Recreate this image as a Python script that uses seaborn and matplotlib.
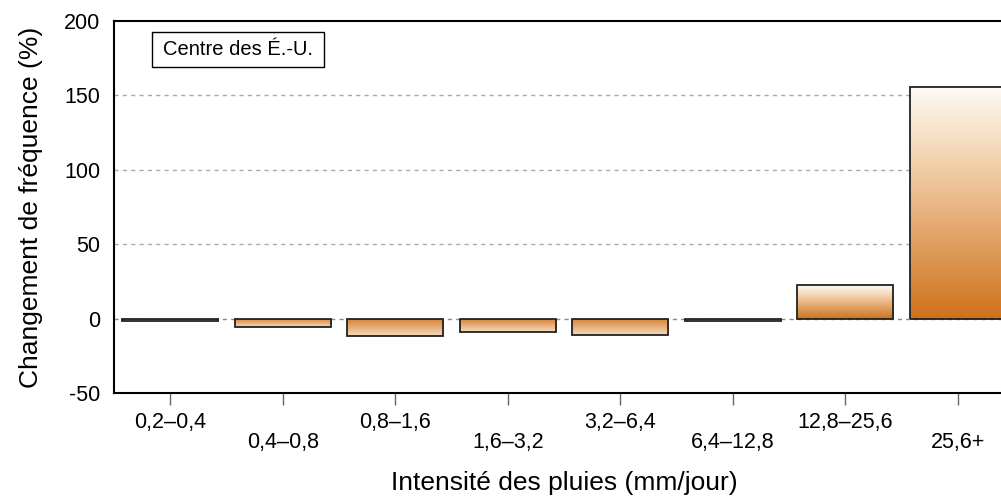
import matplotlib
matplotlib.use("Agg")
import matplotlib.pyplot as plt
import matplotlib.patches as mpatches
import numpy as np
import seaborn as sns
from matplotlib.colors import LinearSegmentedColormap

# data
categories = ["0,2–0,4", "0,4–0,8", "0,8–1,6", "1,6–3,2",
              "3,2–6,4", "6,4–12,8", "12,8–25,6", "25,6+"]
change_pct = [-1.3, -5.6, -11.6, -8.9, -11.1, -1.3, 22.8, 155.5]
y_ticks = [-50, 0, 50, 100, 150, 200]
region_label = "Centre des É.-U."

sns.set_style("white")
plt.rcParams["font.family"] = ["Liberation Sans", "DejaVu Sans"]
plt.rcParams["text.color"] = "black"
plt.rcParams["axes.labelcolor"] = "black"
plt.rcParams["xtick.color"] = "black"
plt.rcParams["ytick.color"] = "black"

fig = plt.figure(figsize=(10.01, 4.96), dpi=100)
ax = fig.add_axes([0.1139, 0.2077, 0.8991, 0.75])

# dashed guides behind the bars
for yv in [0, 50, 100, 150]:
    ax.axhline(yv, color="#888888" if yv == 0 else "#aaaaaa", lw=1,
               dashes=(3, 3), zorder=0.2)

sns.barplot(x=categories, y=change_pct, ax=ax, width=0.855,
            color="white", edgecolor="#222222", linewidth=1.3, zorder=2)

# orange gradient: dark at zero, fading toward the bar end
cmap = LinearSegmentedColormap.from_list(
    "rain", ["#cf711a", "#e0a062", "#f2d0aa", "#fefaf4"])
for patch, val in zip(ax.patches, change_pct):
    patch.set_facecolor("none")
    x0, w = patch.get_x(), patch.get_width()
    lo, hi = min(0, val), max(0, val)
    if val < 0:
        # short negative bars stay more saturated; lightest at the far end
        g = np.linspace(0.75, 0.1, 256).reshape(-1, 1)
    else:
        g = np.linspace(0, 1, 256).reshape(-1, 1)
    im = ax.imshow(g, cmap=cmap, vmin=0, vmax=1, aspect="auto",
                   extent=(x0, x0 + w, lo, hi), origin="lower",
                   zorder=1.5, interpolation="bilinear")
    im.set_clip_path(patch)

ax.set_xlim(-0.5, 7.5)
ax.set_ylim(-50, 200)
ax.set_yticks(y_ticks)
ax.set_yticklabels([str(v) for v in y_ticks])

ax.tick_params(axis="y", length=0, pad=10, labelsize=15.5,
               labelcolor="black")
ax.tick_params(axis="x", length=8.6, width=1, color="#666666",
               pad=5, labelsize=15.5, bottom=True, labelcolor="black")
for i, tick in enumerate(ax.xaxis.get_major_ticks()):
    if i % 2 == 1:
        tick.set_pad(5 + 14.4)

for side in ["left", "top", "bottom"]:
    ax.spines[side].set_visible(True)
    ax.spines[side].set_color("black")
    ax.spines[side].set_linewidth(1.5)
ax.spines["right"].set_visible(False)

ax.set_xlabel("Intensité des pluies (mm/jour)", fontsize=19, labelpad=13,
              color="black")
ax.set_ylabel("Changement de fréquence (%)", fontsize=19, labelpad=15,
              color="black")

# region label box
ax.add_patch(mpatches.Rectangle((0.0422, 0.876), 0.191, 0.094,
                                transform=ax.transAxes, fill=False,
                                edgecolor="black", lw=1, zorder=3))
ax.text(0.1378, 0.923, region_label, transform=ax.transAxes,
        ha="center", va="center", fontsize=14.5, color="black", zorder=4)

fig.savefig("out.png", dpi=100)
